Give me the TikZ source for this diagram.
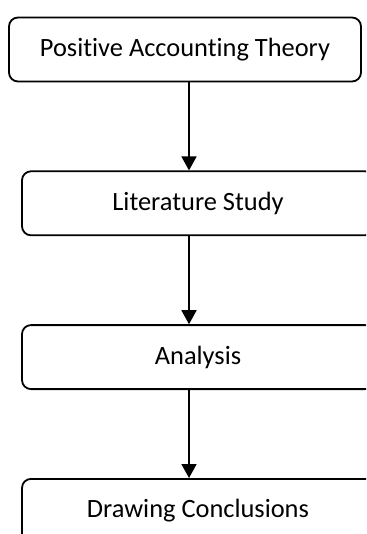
\documentclass[tikz,border=0pt]{standalone}
\usepackage{fontspec}
\setmainfont{Carlito}[Ligatures={NoCommon}]
\usetikzlibrary{positioning,arrows.meta}
\tikzset{node distance=44pt, auto,
  box/.style={draw, line width=0.9pt, rounded corners=4.5pt, minimum width=176pt,
    minimum height=32pt, font=\fontsize{13.2}{15}\selectfont},
  arr/.style={line width=0.9pt, -{Triangle[width=7.5pt,length=7pt]}}}

\begin{document}
\begin{tikzpicture}
                \useasboundingbox (0,0) rectangle (183pt,-267pt);
                \clip (0,0) rectangle (183pt,-267pt);
                \coordinate (axis) at (94.5pt,0);
                \node (theory) [box] at (92.5pt,-24.75pt) {Positive Accounting Theory};
                \node (study) [box, below=of theory, xshift=6.5pt] {Literature Study};
                \node (analysis) [box, below=of study] {Analysis};
                \node (concl) [box, below=of analysis] {Drawing Conclusions};
                \draw[arr] (theory.south -| axis) to (study.north -| axis);
                \draw[arr] (study.south -| axis) to (analysis.north -| axis);
                \draw[arr] (analysis.south -| axis) to (concl.north -| axis);
              \end{tikzpicture}
\end{document}
